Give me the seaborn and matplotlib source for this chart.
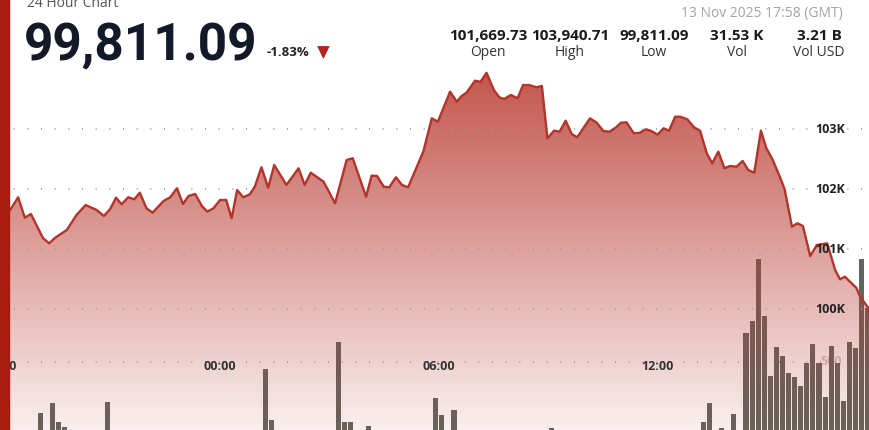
import numpy as np
import pandas as pd
import matplotlib
matplotlib.use("Agg")
import matplotlib.pyplot as plt
import seaborn as sns
from matplotlib.patches import Rectangle

# price readings (GMT), 12 Nov 18:00 -> 13 Nov 17:50
price_times = [
    "18:00", "18:16", "18:29", "18:40", "18:50", "19:10", "19:20", "19:30", "19:49", "20:05",
    "20:20", "20:38", "20:50", "21:00", "21:10", "21:19", "21:30", "21:40", "21:49", "22:00",
    "22:10", "22:28", "22:39", "22:50", "23:00", "23:09", "23:20", "23:31", "23:40", "23:50",
    "00:01", "00:11", "00:20", "00:29", "00:39", "00:50", "00:58", "01:09", "01:20", "01:30",
    "01:50", "02:10", "02:20", "02:30", "02:51", "03:10", "03:29", "03:39", "04:01", "04:10",
    "04:19", "04:30", "04:39", "04:50", "05:00", "05:10", "05:21", "05:35", "05:49", "05:59",
    "06:19", "06:30", "06:38", "06:46", "07:00", "07:09", "07:19", "07:31", "07:40", "07:48",
    "07:59", "08:10", "08:19", "08:29", "08:41", "08:50", "08:59", "09:10", "09:19", "09:29",
    "09:39", "09:48", "10:09", "10:20", "10:31", "10:41", "10:52", "11:00", "11:09", "11:21",
    "11:31", "11:41", "11:50", "12:00", "12:10", "12:19", "12:29", "12:37", "12:49", "13:00",
    "13:10", "13:21", "13:30", "13:40", "13:50", "13:59", "14:10", "14:20", "14:29", "14:39",
    "14:50", "14:59", "15:09", "15:21", "15:29", "15:41", "15:50", "15:59", "16:11", "16:22",
    "16:39", "16:52", "17:00", "17:08", "17:27", "17:33", "17:47", "17:50",
]
prices = [
    101670, 101655, 101867, 101527, 101588, 101183, 101100, 101193, 101322, 101572,
    101738, 101655, 101555, 101667, 101860, 101750, 101867, 101833, 101943, 101683,
    101610, 101805, 101867, 102017, 101755, 101888, 101922, 101722, 101627, 101683,
    101822, 101822, 101517, 101988, 101867, 101917, 102043, 102367, 102027, 102405,
    102072, 102350, 102072, 102277, 102127, 101767, 102488, 102517, 101877, 102227,
    102222, 102043, 102033, 102200, 102072, 102033, 102293, 102627, 103183, 103127,
    103627, 103460, 103555, 103610, 103810, 103793, 103941, 103655, 103533, 103505,
    103572, 103517, 103738, 103738, 103700, 103722, 102850, 102977, 102960, 103143,
    102922, 102867, 103183, 103110, 102972, 102960, 103033, 103110, 103117, 102933,
    102943, 103000, 102972, 102910, 103017, 102977, 103210, 103210, 103167, 103033,
    102977, 102600, 102433, 102627, 102350, 102388, 102377, 102472, 102322, 102277,
    102977, 102683, 102500, 102210, 102000, 101377, 101433, 101388, 100888, 101072,
    101100, 100655, 100500, 100543, 100355, 100210, 100017, 99811,
]

# 10-minute volume bins (start time)
vol_times = [
    "19:00", "19:20", "19:30", "19:40", "20:50", "01:10", "01:20", "03:10", "03:20", "03:30",
    "04:00", "05:50", "06:00", "06:20", "09:00", "13:10", "13:20", "13:40", "14:00", "14:20",
    "14:30", "14:40", "14:50", "15:00", "15:10", "15:20", "15:30", "15:40", "15:50", "16:00",
    "16:10", "16:20", "16:30", "16:40", "16:50", "17:00", "17:10", "17:20", "17:30", "17:40",
]
volumes = [
    171, 235, 113, 81, 245, 453, 128, 630, 113, 113,
    90, 271, 157, 190, 80, 117, 239, 76, 165, 688,
    763, 1158, 795, 412, 599, 538, 431, 406, 346, 492,
    615, 492, 278, 603, 492, 250, 626, 588, 1158, 848,
]

price_ticks = [100000, 101000, 102000, 103000]
price_tick_labels = ["100K", "101K", "102K", "103K"]
vol_tick = 500
time_ticks = ["18:00", "00:00", "06:00", "12:00"]

big_price = "99,811.09"
change = "-1.83%"
stamp = "13 Nov 2025 17:58 (GMT)"
stat_values = ["101,669.73", "103,940.71", "99,811.09", "31.53 K", "3.21 B"]
stat_labels = ["Open", "High", "Low", "Vol", "Vol USD"]


def to_dt(hhmm):
    day = "2025-11-12" if hhmm >= "18:00" else "2025-11-13"
    return pd.Timestamp(f"{day} {hhmm}")


df = pd.DataFrame({"time": [to_dt(t) for t in price_times], "price": prices})
vol = pd.DataFrame({"time": [to_dt(t) for t in vol_times], "volume": volumes})

sns.set_theme(style="white")
plt.rcParams["font.family"] = ["Open Sans", "DejaVu Sans"]

W, H = 870, 430
fig = plt.figure(figsize=(W / 100, H / 100), dpi=100)
ax = fig.add_axes([0, 0, 1, 1])
ax2 = ax.twinx()

t0 = pd.Timestamp("2025-11-12 18:00")
xlim = (t0 - pd.Timedelta(minutes=0.8), t0 + pd.Timedelta(minutes=1429.3))

# volume bars (bottom layer)
ax.bar(vol["time"] + pd.Timedelta(minutes=5.5), vol["volume"], width=8.4 / 1440,
       color="#61665e", linewidth=0, zorder=2)
ax.axhline(vol_tick, color="#a8a8a8", lw=1.2, dashes=(0.6, 7.6), zorder=1)
ax.text(0.955, vol_tick, str(vol_tick), transform=ax.get_yaxis_transform(),
        ha="center", va="center", fontsize=9, fontweight="bold", color="#d9c9c8", zorder=1.5)
ax.set_ylim(64, 2820)

# gradient fill under price line
poly = ax2.fill_between(df["time"], df["price"], 96000, color="none", lw=0)
yy = np.arange(H)[:, None] * np.ones((1, W))
alpha = np.clip(0.86 - 0.78 * (yy - 72) / 358, 0.06, 0.9)
img = np.zeros((H, W, 4))
img[..., 0] = 185 / 255
img[..., 1] = 58 / 255
img[..., 2] = 48 / 255
img[..., 3] = alpha
im = ax2.imshow(img, extent=[0, 1, 0, 1], transform=ax2.transAxes, aspect="auto",
                interpolation="bilinear", zorder=1)
im.set_clip_path(poly.get_paths()[0], transform=ax2.transData)

sns.lineplot(data=df, x="time", y="price", ax=ax2, color="#b2342a", linewidth=1.7, zorder=3)

for p, lab in zip(price_ticks, price_tick_labels):
    ax2.axhline(p, color="#9a9a9a", lw=1.2, dashes=(0.6, 7.6), zorder=2)
    ax2.text(0.9713, p, lab, transform=ax2.get_yaxis_transform(), ha="right", va="center",
             fontsize=9, fontweight="bold", color="#222222", zorder=5)

for t in time_ticks:
    ax2.text(to_dt(t), 1 - 367 / H, t, transform=ax2.get_xaxis_transform(), ha="center",
             va="center", fontsize=9, fontweight="bold", color="#333333", zorder=5)

ax2.set_ylim(97988, 105155)
ax.set_xlim(*xlim)
ax2.set_xlim(*xlim)
for a in (ax, ax2):
    a.set_axis_off()

# left accent bar
fig.add_artist(Rectangle((0, 0), 9 / W, 1, transform=fig.transFigure, color="#a81c10", zorder=10))


def fx(x):
    return x / W


def fy(y):
    return 1 - y / H


fig.text(fx(27), fy(7), "24 Hour Chart", fontsize=10, color="#555555", va="baseline")
fig.text(fx(24), fy(60), big_price, fontsize=37, fontweight="bold", color="#111a26",
         va="baseline", family="Roboto")
fig.text(fx(267), fy(52), change, fontsize=9.5, fontweight="bold", color="#222222", va="center")
fig.text(fx(323), fy(53), "\u25bc", fontsize=12, color="#b3261e", va="center", ha="center",
         family="DejaVu Sans")
fig.text(fx(843), fy(13), stamp, fontsize=10, color="#a3a3a3", va="center", ha="right")

col_x = [488, 570, 654, 737, 819]
for cx, v, lab in zip(col_x, stat_values, stat_labels):
    fig.text(fx(cx), fy(36), v, fontsize=11, fontweight="bold", color="#1a1a1a",
             ha="center", va="center")
    fig.text(fx(cx), fy(52), lab, fontsize=10, color="#333333", ha="center", va="center")

fig.savefig("out.png", dpi=100)
